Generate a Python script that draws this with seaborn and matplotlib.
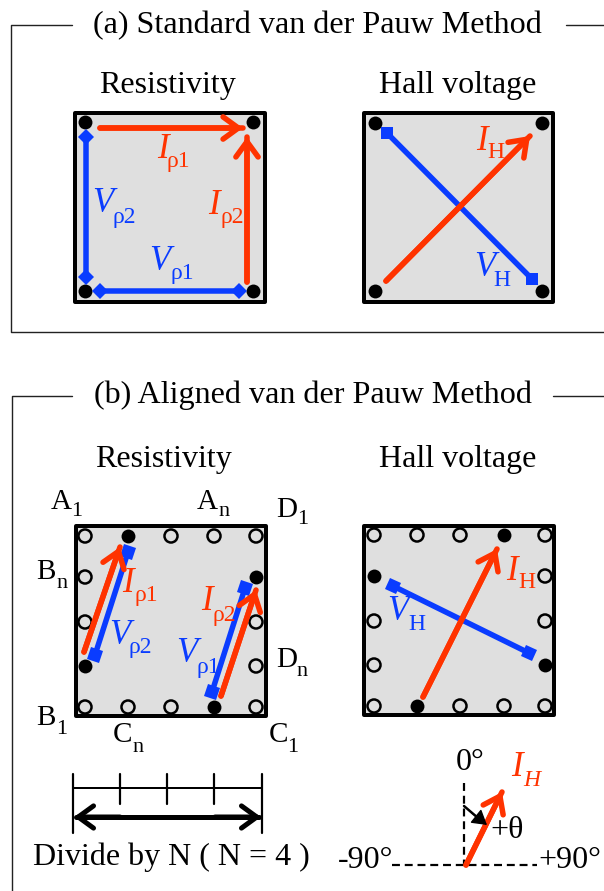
import matplotlib
matplotlib.use("Agg")
import matplotlib.pyplot as plt
from matplotlib.markers import MarkerStyle
from matplotlib.patches import Rectangle
from matplotlib.transforms import Affine2D
import numpy as np
import pandas as pd
import seaborn as sns

sns.set_theme(style="white")
plt.rcParams["font.family"] = ["Liberation Serif", "DejaVu Serif"]

RED = "#FF3300"
BLUE = "#0A3CFF"
GRAY = "#DFDFDF"

# frames (a) and (b)
frame_a_x = [72, 11, 11, 604]
frame_a_y = [25, 25, 332, 332]
frame_a_right_x = [566, 604]
frame_a_right_y = [25, 25]
frame_b_x = [72, 12, 12]
frame_b_y = [396, 396, 891]
frame_b_right_x = [553, 604]
frame_b_right_y = [396, 396]

# squares: left, top, right, bottom
squares = [(75, 113, 265, 302), (364, 113, 553, 302), (76, 526, 266, 716), (364, 526, 554, 715)]

# panel (a) contacts
a_left_x = [85, 253, 85, 253]
a_left_y = [122, 122, 291, 291]
a_right_x = [375, 542, 375, 542]
a_right_y = [123, 123, 291, 291]

# panel (b) contacts
b_left_open_x = [85, 171, 214, 256, 85, 256, 85, 256, 85, 128, 171, 256]
b_left_open_y = [536, 536, 536, 536, 577, 622, 622, 666, 707, 707, 707, 707]
b_left_fill_x = [128, 256, 85, 214]
b_left_fill_y = [536, 577, 666, 707]
b_right_open_x = [374, 417, 460, 545, 545, 374, 545, 374, 374, 460, 504, 545]
b_right_open_y = [535, 535, 535, 535, 576, 621, 621, 665, 706, 706, 706, 706]
b_right_fill_x = [504, 374, 545, 417]
b_right_fill_y = [535, 576, 665, 706]

# currents: x0, y0, x1, y1
red_arrows = [
    (100, 128, 243, 128), (247, 282, 247, 137), (386, 281, 530, 136),
    (84, 652, 120, 547), (221, 696, 256, 590), (423, 697, 497, 549),
    (466, 865, 502, 792),
]
# voltages: x0, y0, x1, y1, marker, angle
blue_lines = [
    (86, 137, 86, 277, "D", 0), (100, 291, 239, 291, "D", 0), (387, 133, 532, 279, "s", 0),
    (95, 655, 128, 552, "s", -18), (212, 692, 245, 588, "s", -18), (393, 586, 529, 653, "s", -26),
]

# scale bar
scale_ends = [73, 262]
scale_ticks = [120, 167, 214]

# angle guide
guide_vx = [464, 464]
guide_vy = [783, 865]
guide_hx = [392, 537]
guide_hy = [865, 865]

fig = plt.figure(figsize=(6.04, 8.91), dpi=100)
ax = fig.add_axes([0, 0, 1, 1])
PX = 0.72


def path(xs, ys, color, width, **kw):
    frame = pd.DataFrame({"x": xs, "y": ys})
    sns.lineplot(data=frame, x="x", y="y", sort=False, estimator=None, ax=ax,
                 color=color, linewidth=width * PX, legend=False, **kw)


def arrow(x0, y0, x1, y1, color, width, length=0.55, spread=0.4):
    ax.annotate("", xy=(x1, y1), xytext=(x0, y0),
                arrowprops=dict(arrowstyle=f"->,head_length={length},head_width={spread}",
                                color=color, lw=width * PX, shrinkA=0, shrinkB=0,
                                mutation_scale=20, capstyle="round", joinstyle="round"), zorder=6)


def contacts(xs, ys, filled):
    frame = pd.DataFrame({"x": xs, "y": ys})
    sns.scatterplot(data=frame, x="x", y="y", ax=ax, s=100 if filled else 88, legend=False, zorder=4,
                    facecolor="black" if filled else "none", edgecolor="black",
                    linewidth=0 if filled else 1.8)


def sub_label(x, y, main, sub, color, sub_x, sub_y, style="italic", sub_style="normal"):
    ax.text(x, y, main, color=color, fontsize=25, style=style, ha="center", va="center", zorder=7)
    ax.text(sub_x, sub_y, sub, color=color, fontsize=17, style=sub_style, ha="left", va="center", zorder=7)


for l, t, r, b in squares:
    ax.add_patch(Rectangle((l, t), r - l, b - t, facecolor=GRAY, edgecolor="black",
                           linewidth=4 * PX, joinstyle="round", zorder=1))

for xs, ys in [(frame_a_x, frame_a_y), (frame_a_right_x, frame_a_right_y),
               (frame_b_x, frame_b_y), (frame_b_right_x, frame_b_right_y)]:
    path(xs, ys, "#222222", 1.4)

contacts(a_left_x, a_left_y, True)
contacts(a_right_x, a_right_y, True)
contacts(b_left_fill_x, b_left_fill_y, True)
contacts(b_right_fill_x, b_right_fill_y, True)
contacts(b_left_open_x, b_left_open_y, False)
contacts(b_right_open_x, b_right_open_y, False)

for x0, y0, x1, y1, m, ang in blue_lines:
    path([x0, x1], [y0, y1], BLUE, 5.5, zorder=5)
    marker = MarkerStyle(m, transform=Affine2D().rotate_deg(ang))
    ax.plot([x0, x1], [y0, y1], ls="none", marker=marker, ms=9 if m == "s" else 8,
            color=BLUE, mew=0, zorder=5)

for x0, y0, x1, y1 in red_arrows:
    path([x0, x1], [y0, y1], RED, 5.5, zorder=6)
    arrow(x0, y0, x1, y1, RED, 5.5)

# scale bar
path(scale_ends, [788, 788], "black", 2)
for x in scale_ends:
    path([x, x], [774, 833], "black", 2.2)
for x in scale_ticks:
    path([x, x], [774, 804], "black", 2.2)
path([76, 259], [817, 817], "black", 5)
arrow(120, 817, 74, 817, "black", 5)
arrow(215, 817, 261, 817, "black", 5)

# angle guide
ax.plot(guide_vx, guide_vy, color="black", lw=2.2 * PX, dashes=(3.6, 2.2))
ax.plot(guide_hx, guide_hy, color="black", lw=2.2 * PX, dashes=(3.6, 2.2))
path([464, 478], [806, 818], "black", 2.5)
ax.annotate("", xy=(487, 825), xytext=(472, 813),
            arrowprops=dict(arrowstyle="-|>,head_length=0.45,head_width=0.27", color="black",
                            lw=1, shrinkA=0, shrinkB=0, mutation_scale=20), zorder=7)

# titles
T = 23.1
S = 23
for x, y, s, f in [(317, 26, "(a) Standard van der Pauw Method", T),
                   (167, 85, "Resistivity", S), (458, 85, "Hall voltage", S),
                   (313, 395, "(b) Aligned van der Pauw Method", T),
                   (163, 459, "Resistivity", S), (458, 459, "Hall voltage", S),
                   (171, 857, "Divide by N ( N = 4 )", S),
                   (470, 762, "0°", S), (366, 860, "-90°", S), (570, 860, "+90°", S),
                   (507, 830, "+θ", S)]:
    ax.text(x, y, s, fontsize=f, color="black", ha="center", va="center", zorder=8)

# current / voltage labels
sub_label(163, 150, "I", "ρ1", RED, 167, 161)
sub_label(214, 205, "I", "ρ2", RED, 220, 217)
sub_label(482, 142, "I", "H", RED, 487, 153)
sub_label(103, 204, "V", "ρ2", BLUE, 112, 218)
sub_label(160, 262, "V", "ρ1", BLUE, 171, 273)
sub_label(485, 267, "V", "H", BLUE, 493, 280)
sub_label(128, 583, "I", "ρ1", RED, 135, 596)
sub_label(207, 602, "I", "ρ2", RED, 213, 615)
sub_label(512, 572, "I", "H", RED, 518, 583)
sub_label(120, 635, "V", "ρ2", BLUE, 129, 648)
sub_label(187, 654, "V", "ρ1", BLUE, 197, 667)
sub_label(398, 612, "V", "H", BLUE, 408, 624)
sub_label(517, 768, "I", "H", RED, 523, 780, sub_style="italic")

# contact names
for x, y, main, sub, sx, sy in [(61, 502, "A", "1", 77, 512), (207, 502, "A", "n", 224, 512),
                                (287, 510, "D", "1", 303, 520), (46, 572, "B", "n", 62, 583),
                                (46, 718, "B", "1", 62, 730), (122, 735, "C", "n", 138, 747),
                                (278, 735, "C", "1", 293, 747), (287, 660, "D", "n", 302, 672)]:
    ax.text(x, y, main, fontsize=21, color="black", ha="center", va="center", zorder=8)
    ax.text(sx, sy, sub, fontsize=16, color="black", ha="center", va="center", zorder=8)

ax.set_xlim(0, 604)
ax.set_ylim(891, 0)
ax.axis("off")
fig.savefig("out.png", dpi=100)
